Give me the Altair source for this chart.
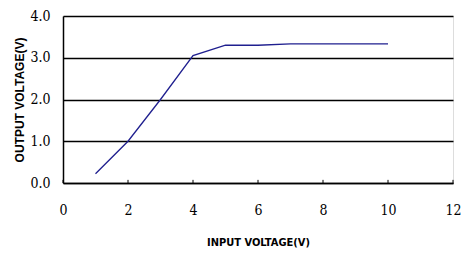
import altair as alt
import pandas as pd

input_v = [1, 2, 3, 4, 5, 6, 7, 8, 9, 10]
output_v = [0.22, 1.0, 2.0, 3.05, 3.3, 3.3, 3.33, 3.33, 3.33, 3.33]
x_ticks = [0, 2, 4, 6, 8, 10, 12]
y_ticks = [0, 1, 2, 3, 4]

df = pd.DataFrame({"x": input_v, "y": output_v})
ticks_df = pd.DataFrame({"x": x_ticks})

xs = alt.Scale(domain=[0, 12], nice=False)
ys = alt.Scale(domain=[0, 4], nice=False)

SERIF = "DejaVu Serif Condensed"

line = alt.Chart(df).mark_line(color="#1f1f8f", strokeWidth=1.3).encode(
    x=alt.X("x:Q", scale=xs,
            axis=alt.Axis(values=x_ticks, title="INPUT VOLTAGE(V)", grid=False,
                          tickSize=0, domainColor="black",
                          labelFont=SERIF, labelFontSize=14, labelColor="black",
                          labelPadding=20, titleFont="DejaVu Sans Condensed",
                          titleFontSize=11,
                          titleFontWeight="bold", titleColor="black", titlePadding=19,
                          domainWidth=1.5, labelFlush=False)),
    y=alt.Y("y:Q", scale=ys,
            axis=alt.Axis(values=y_ticks, format=".1f", title="OUTPUT VOLTAGE(V)",
                          grid=True, gridColor="black", gridWidth=1.3, gridOpacity=1,
                          tickSize=0, domainColor="black", domainWidth=1.5,
                          labelFont=SERIF, labelFontSize=14, labelColor="black",
                          labelPadding=13, titleFont="Liberation Sans",
                          titleFontSize=12,
                          titleFontWeight="bold", titleColor="black", titlePadding=3,
                          labelFlush=False)),
)

ticks = alt.Chart(ticks_df).mark_rule(color="black", strokeWidth=1).encode(
    x=alt.X("x:Q", scale=xs),
    y=alt.datum(0),
    y2=alt.datum(0.075),
)

chart = alt.layer(ticks, line).properties(
    width=390, height=167,
    autosize=alt.AutoSizeParams(type="none"),
    padding={"left": 55, "top": 8, "right": 8, "bottom": 66},
).configure_view(stroke=None).configure(background="white")

chart.save("out.html", embed_options={"renderer": "svg", "actions": False})
